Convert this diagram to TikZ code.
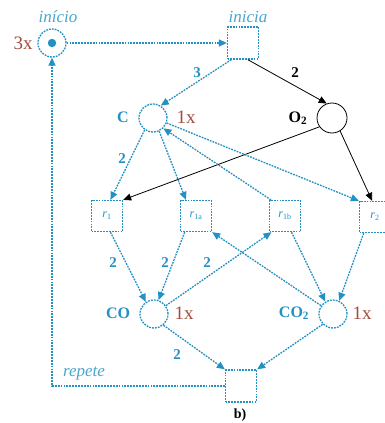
\documentclass[tikz,border=0pt]{standalone}
\usepackage{fontspec}
\setmainfont{Liberation Serif}
\usetikzlibrary{arrows.meta,calc}
\definecolor{pnblue}{RGB}{35,145,195}
\definecolor{pnlight}{RGB}{75,165,205}
\definecolor{pnred}{RGB}{165,75,60}
\begin{document}
\begin{tikzpicture}[x=1pt,y=-1pt,
  dotln/.style={draw=pnblue, line width=1.3pt, dash pattern=on 1.8pt off 1.1pt},
  place/.style={circle, dotln, minimum size=28pt, inner sep=0pt},
  trans/.style={rectangle, dotln, minimum width=31pt, minimum height=31pt, inner sep=0pt,
     font=\fontsize{12}{12}\selectfont, text=pnblue},
  barc/.style={dotln, -{Triangle[length=8pt,width=7pt]}},
  karc/.style={draw=black, line width=0.8pt, -{Triangle[length=8pt,width=7pt]}},
  cnt/.style={text=pnred, font=\fontsize{19}{20}\selectfont},
  plab/.style={text=pnblue, font=\fontsize{16}{17}\selectfont\bfseries},
  tlab/.style={text=pnlight, font=\fontsize{17}{18}\selectfont\itshape},
  wlab/.style={text=pnblue, font=\fontsize{15}{16}\selectfont\bfseries},
]
\useasboundingbox[fill=white] (0,0) rectangle (385,423);

% places
\node[place] (inicio) at (52,43) {};
\fill[pnblue] (inicio.center) circle (4.2pt);
\node[place] (C) at (153,118) {};
\node[circle, draw=black, line width=0.8pt, minimum size=30pt, inner sep=0pt] (O2) at (332,118) {};
\node[place] (CO) at (154,314) {};
\node[place] (CO2) at (333,314) {};

% transitions
\node[trans, minimum height=32pt] (inicia) at (243,43) {};
\node[trans] (r1) at (107,216) {\textit{r}\textsubscript{1}};
\node[trans] (r1a) at (196,216) {\textit{r}\textsubscript{1a}};
\node[trans] (r1b) at (285,216) {\textit{r}\textsubscript{1b}};
\node[trans] (r2) at (375,217) {\textit{r}\textsubscript{2}};
\node[trans, minimum height=32pt] (fim) at (241,386) {};

% texts
\node[cnt] (n3x) at (23,43) {3x};
\node[tlab] (linicio) at (58,17) {início};
\node[tlab] (linicia) at (248,17) {inicia};
\node[plab] (lC) at (123,117) {C};
\node[cnt] (c1) at (186,117) {1x};
\node[plab, text=black] (lO2) at (298,118) {O\textsubscript{2}};
\node[plab] (lCO) at (118,313) {CO};
\node[cnt] (c2) at (184,313) {1x};
\node[plab] (lCO2) at (294,313) {CO\textsubscript{2}};
\node[cnt] (c3) at (362,313) {1x};
\node[tlab] (lrep) at (84,374) {repete};
\node[font=\fontsize{14}{14}\selectfont\bfseries] (lb) at (240,415) {b)};

% arcs
\draw[barc] (inicio.east) -- (inicia.west);
\draw[barc] (inicia.235) -- (C.58);
\draw[karc] (inicia.-74) -- (O2.110);
\draw[barc] (C.235) -- (r1.78);
\draw[karc] (O2.215) -- (r1.north east);
\draw[barc] (C.-65) -- (r1a.122);
\draw[barc] (r1b.131) -- (C.-45);
\draw[barc] (C.-20) -- (r2.north west);
\draw[karc] (O2.-58) -- (r2.100);
\draw[barc] (r1.-78) -- (CO.124);
\draw[barc] (r1a.-125) -- (CO.72);
\draw[barc] (CO.35) -- (r1b.-130);
\draw[barc] (CO2.145) -- (r1a.south east);
\draw[barc] (r1b.-68) -- (CO2.122);
\draw[barc] (r2.-125) -- (CO2.65);
\draw[barc] (CO.-50) -- (fim.north west);
\draw[barc] (CO2.-135) -- (fim.north east);
\draw[barc] (fim.west) -| (inicio.south);

% weights
\node[wlab] (w1) at (197,73) {3};
\node[wlab, text=black] (w2) at (295,73) {2};
\node[wlab] (w3) at (122,159) {2};
\node[wlab] (w4) at (113,263) {2};
\node[wlab] (w5) at (165,263) {2};
\node[wlab] (w6) at (207,263) {2};
\node[wlab] (w7) at (177,355) {2};
\end{tikzpicture}
\end{document}
